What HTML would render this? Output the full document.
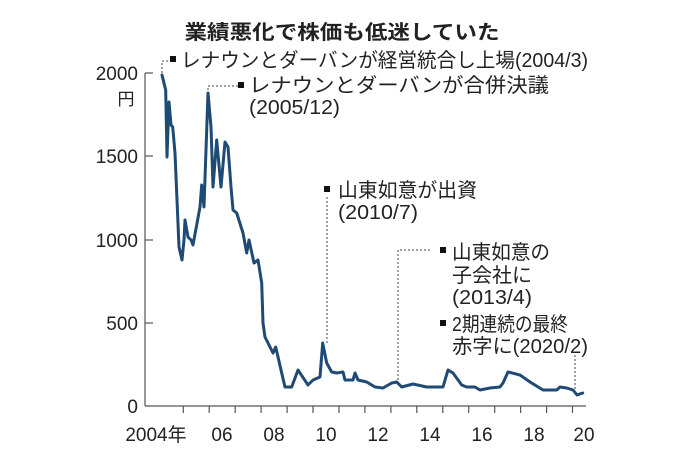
<!DOCTYPE html>
<html><head><meta charset="utf-8"><style>
html,body{margin:0;padding:0;background:#fff;}
svg{display:block;}
text{font-family:"Liberation Sans","Noto Sans CJK JP",sans-serif;fill:#222;}
</style></head><body>
<svg width="681" height="452" viewBox="0 0 681 452" xmlns="http://www.w3.org/2000/svg">
<text x="342" y="39" font-size="20" font-weight="bold" text-anchor="middle" textLength="315" lengthAdjust="spacingAndGlyphs">業績悪化で株価も低迷していた</text>

<!-- axes -->
<g stroke="#555" stroke-width="1.2" fill="none">
<line x1="145" y1="73" x2="145" y2="406"/>
<line x1="145" y1="406" x2="586" y2="406"/>
<line x1="145" y1="73" x2="153" y2="73"/>
<line x1="145" y1="156" x2="153" y2="156"/>
<line x1="145" y1="240" x2="153" y2="240"/>
<line x1="145" y1="323" x2="153" y2="323"/>
<path d="M183.3 406v7M209.2 406v7M235.2 406v7M261.1 406v7M287.1 406v7M313 406v7M339 406v7M364.9 406v7M390.9 406v7M416.8 406v7M442.8 406v7M468.7 406v7M494.7 406v7M520.6 406v7M546.6 406v7M572.5 406v7"/>
</g>
<g font-size="19" text-anchor="end">
<text x="138" y="80">2000</text>
<text x="138" y="163">1500</text>
<text x="138" y="247">1000</text>
<text x="138" y="330">500</text>
<text x="138" y="413">0</text>
</g>
<text x="126" y="105" font-size="17" text-anchor="middle">円</text>
<g font-size="19" text-anchor="middle">
<text x="156" y="441">2004年</text>
<text x="222" y="441">06</text>
<text x="274" y="441">08</text>
<text x="326" y="441">10</text>
<text x="378" y="441">12</text>
<text x="430" y="441">14</text>
<text x="482" y="441">16</text>
<text x="534" y="441">18</text>
<text x="584" y="441">20</text>
</g>

<!-- dotted leaders -->
<g stroke="#444" stroke-width="1" stroke-dasharray="2,2" fill="none">
<polyline points="162,73 162,61 170,61"/>
<polyline points="208,90 208,86 238,86"/>
<polyline points="327,343 327,196"/>
<polyline points="398,380 398,250 432,250"/>
<polyline points="575,393 575,355"/>
</g>

<!-- annotations -->
<g font-size="20">
<rect x="170" y="56" width="6" height="6" fill="#111"/>
<text x="181" y="67" textLength="407" lengthAdjust="spacingAndGlyphs">レナウンとダーバンが経営統合し上場(2004/3)</text>
<rect x="238" y="82" width="6" height="6" fill="#111"/>
<text x="249" y="92" textLength="300" lengthAdjust="spacingAndGlyphs">レナウンとダーバンが合併決議</text>
<text x="249" y="114" textLength="91" lengthAdjust="spacingAndGlyphs">(2005/12)</text>
<rect x="324" y="186" width="6" height="6" fill="#111"/>
<text x="338" y="197" textLength="139" lengthAdjust="spacingAndGlyphs">山東如意が出資</text>
<text x="338" y="219" textLength="80" lengthAdjust="spacingAndGlyphs">(2010/7)</text>
<rect x="440" y="247" width="6" height="6" fill="#111"/>
<text x="452" y="259" textLength="98" lengthAdjust="spacingAndGlyphs">山東如意の</text>
<text x="452" y="282" textLength="80" lengthAdjust="spacingAndGlyphs">子会社に</text>
<text x="452" y="304" textLength="80" lengthAdjust="spacingAndGlyphs">(2013/4)</text>
<rect x="440" y="320" width="6" height="6" fill="#111"/>
<text x="452" y="331" textLength="116" lengthAdjust="spacingAndGlyphs">2期連続の最終</text>
<text x="452" y="353" textLength="136" lengthAdjust="spacingAndGlyphs">赤字に(2020/2)</text>
</g>

<!-- series -->
<polyline fill="none" stroke="#1f4a73" stroke-width="3" stroke-linejoin="round" stroke-linecap="round"
points="162,75 165.7,90 167,157 169,102 171,125 172.7,127 175,153 177,200 179,247 182,260 184,240 185,220 188,237 191,240 193,245 200,207 201.7,185 204,207 208,93 211,127 213,187 216.7,140 221,187 225,142 228,147 231,187 233,210 236.7,213 243,233 246.7,253 249,240 254,263 258,260 261.7,283 263,323 265,337 273,353 275.7,347 281.7,373 285,387 291.7,387 298,370 308,385 313,380 320,377 322.7,343 326.7,363 331.7,372 336.7,373 343,372 345,380 353,380 355,373 358,380 366.7,382 375,387 383,388 391.7,383 396.7,382 401.7,387 413,384 426.7,387 443,387 448,370 453,373 461.7,385 466.7,387 475,387 480,390 490,388 500,387 503,383 508,372 520,375 530,382 543,390 556.7,390 560,387 566.7,388 573,390 577,395 582.7,393"/>
</svg>
</body></html>
